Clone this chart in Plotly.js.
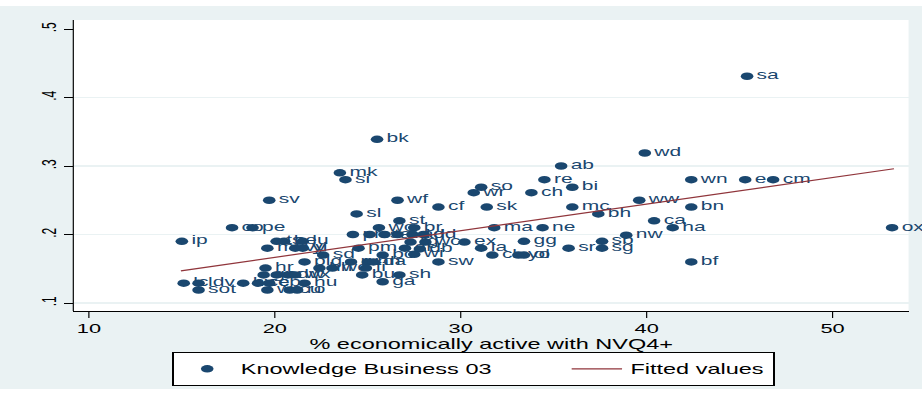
<!DOCTYPE html>
<html>
<head>
<meta charset="utf-8">
<script src="https://cdn.plot.ly/plotly-3.0.1.min.js"></script>
<style>
  html, body { margin: 0; padding: 0; background: #ffffff; }
  #wrap { position: absolute; left: 0; top: 0; width: 922px; height: 396px; overflow: hidden; background: #ffffff; }
  #chart { position: absolute; left: 0; top: 0; width: 549px; height: 396px; transform: scaleX(1.67942); transform-origin: 0 0; }
</style>
</head>
<body>
<div id="wrap"><div id="chart"></div></div>
<script>
// Area labels
const labels = [
  "sa","bk","wd","mk","si","ab","re","so","bi","wr",
  "ch","wn","e","cm","sv","wf","ww","cf","sk","mc",
  "bn","sl","bh","st","ca","ha","co","pe","ip","ox",
  "ma","ne","nw","bf","sb","sg","sr","gg","ex","la",
  "cl","yo","ol","wo","br","pr","ss","ta","nd","ad",
  "dd","rg","wc","pm","ar","db","bo","wi","sd","sw",
  "plg","ru","nn","da","hh","we","fi","bu","sh","ga",
  "hu","hr","gr","cr","dw","wx","lc","ldv","hy","ce",
  "cb","sot","ws","cu","ro","ts","be","lu","mf","vy","yl"
];
// % economically active with NVQ4+
const nvq4 = [
  45.4, 25.5, 39.9, 23.5, 23.8, 35.4, 34.5, 31.1, 36.0, 30.7,
  33.8, 42.4, 45.3, 46.8, 19.7, 26.6, 39.6, 28.8, 31.4, 36.0,
  42.4, 24.4, 37.4, 26.7, 40.4, 41.4, 17.7, 18.8, 15.0, 53.2,
  31.8, 34.4, 38.9, 42.4, 37.6, 37.6, 35.8, 33.4, 30.2, 31.1,
  31.7, 33.1, 33.4, 25.6, 27.5, 24.2, 25.1, 25.9, 26.6, 27.4,
  28.0, 27.3, 28.1, 24.5, 27.0, 27.8, 25.8, 27.5, 22.6, 28.8,
  21.6, 24.1, 25.0, 25.3, 22.4, 23.1, 24.9, 24.7, 26.7, 25.8,
  21.6, 19.5, 19.4, 20.1, 20.7, 21.1, 15.1, 15.9, 18.3, 19.1,
  19.7, 15.9, 19.6, 20.8, 21.2, 20.1, 20.5, 21.5, 19.6, 21.1, 21.5
];
// Knowledge Business 03
const knowledge = [
  0.431, 0.339, 0.319, 0.290, 0.280, 0.300, 0.280, 0.269, 0.269, 0.261,
  0.261, 0.280, 0.280, 0.280, 0.250, 0.250, 0.250, 0.240, 0.240, 0.240,
  0.240, 0.230, 0.230, 0.220, 0.220, 0.210, 0.210, 0.210, 0.190, 0.210,
  0.210, 0.210, 0.199, 0.160, 0.190, 0.180, 0.180, 0.190, 0.189, 0.180,
  0.170, 0.170, 0.170, 0.210, 0.210, 0.200, 0.200, 0.200, 0.200, 0.200,
  0.200, 0.189, 0.189, 0.180, 0.180, 0.179, 0.170, 0.171, 0.170, 0.160,
  0.160, 0.160, 0.160, 0.160, 0.151, 0.151, 0.151, 0.141, 0.141, 0.131,
  0.129, 0.151, 0.141, 0.141, 0.141, 0.141, 0.129, 0.129, 0.129, 0.129,
  0.129, 0.119, 0.119, 0.119, 0.119, 0.190, 0.190, 0.190, 0.180, 0.180, 0.180
];
// Fitted values (endpoints)
const fitX = [14.95, 53.3];
const fitY = [0.147, 0.296];
// Tick labels
const xTickVals = [10, 20, 30, 40, 50];
const yTickVals = [0.1, 0.2, 0.3, 0.4, 0.5];
const yTickText = [".1", ".2", ".3", ".4", ".5"];
const yGridVals = [0.1, 0.2, 0.3, 0.4];

const NAVY = "#1a476f", MAROON = "#90353b", BG = "#eaf2f3";
const SANS = "Liberation Sans, Arial, sans-serif";

const traces = [
  {
    type: "scatter", mode: "markers+text", name: "Knowledge Business 03",
    x: nvq4, y: knowledge, text: labels, textposition: "middle right",
    textfont: { family: SANS, size: 12.5, color: NAVY },
    marker: { color: NAVY, size: 7.5, line: { width: 0 } },
    cliponaxis: false, hoverinfo: "skip", legendwidth: 187
  },
  {
    type: "scatter", mode: "lines", name: "Fitted values",
    x: fitX, y: fitY, line: { color: MAROON, width: 1.2 }, hoverinfo: "skip"
  }
];

const layout = {
  width: 549, height: 396,
  margin: { l: 44, r: 8, t: 20, b: 85 },
  paper_bgcolor: BG, plot_bgcolor: "#ffffff",
  font: { family: SANS, size: 13, color: "#000" },
  showlegend: true,
  legend: {
    orientation: "h", x: 0.1175, xanchor: "left", y: -0.1417, yanchor: "top",
    bordercolor: "#000", borderwidth: 1, bgcolor: "#ffffff",
    font: { family: SANS, size: 14, color: "#000" }
  },
  xaxis: {
    range: [9.194, 54.086], tickmode: "array", tickvals: xTickVals,
    ticks: "outside", ticklen: 6, tickwidth: 0.7, tickcolor: "#000",
    ticklabelstandoff: -1,
    showline: true, linecolor: "#000", linewidth: 1, mirror: false,
    showgrid: false, zeroline: false,
    tickfont: { family: SANS, size: 13, color: "#000" },
    title: { text: "% economically active with NVQ4+", font: { family: SANS, size: 14, color: "#000" }, standoff: 0 }
  },
  yaxis: {
    range: [0.08832, 0.51314], tickmode: "array", tickvals: yTickVals, ticktext: yTickText,
    tickangle: -90, ticklabelstandoff: -2.5,
    ticks: "outside", ticklen: 5.4, tickwidth: 1, tickcolor: "#000",
    showline: true, linecolor: "#000", linewidth: 0.7,
    showgrid: false, zeroline: false,
    minor: { tickmode: "array", tickvals: yGridVals, showgrid: true, gridcolor: BG, gridwidth: 1.5, ticks: "" },
    tickfont: { family: SANS, size: 12, color: "#000" }
  },
  shapes: [
    { type: "rect", xref: "paper", yref: "paper", x0: -0.1, x1: 1.1, y0: 1.0481, y1: 1.1, fillcolor: "#ffffff", line: { width: 0 }, layer: "above" },
    { type: "rect", xref: "paper", yref: "paper", x0: -0.1, x1: 1.1, y0: -0.4, y1: -0.268, fillcolor: "#ffffff", line: { width: 0 }, layer: "above" }
  ]
};

Plotly.newPlot("chart", traces, layout, { displayModeBar: false, staticPlot: true });
</script>
</body>
</html>
